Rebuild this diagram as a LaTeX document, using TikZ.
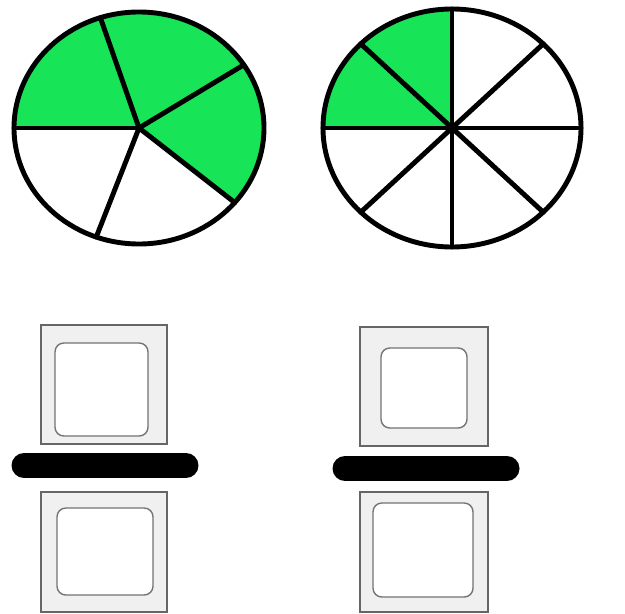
\documentclass[tikz,border=0pt]{standalone}
\usetikzlibrary{calc}
\definecolor{piegreen}{RGB}{24,228,88}
\begin{document}
\begin{tikzpicture}[
  x=0.02cm, y=0.02cm,
  pieline/.style={line width=2.8pt, draw=black, line cap=round},
  slice/.style={fill=piegreen},
  outerbox/.style={draw=black!60, fill=black!6, line width=1.3pt, inner sep=0pt},
  innerbox/.style={draw=black!55, fill=white, line width=0.8pt, rounded corners=5pt, inner sep=0pt},
  fracbar/.style={line width=0.5cm, line cap=round, draw=black}
]
  \useasboundingbox (0,0) rectangle (625,613);

  % --- Left pie: five parts, three shaded ---
  \coordinate (lc) at (139,485);
  \fill[slice] (lc) -- ++(-40:125 and 116)
       arc[start angle=-40, end angle=180, x radius=125, y radius=116] -- cycle;
  \foreach \a in {180,108,33,-40,-110}
    \draw[pieline] (lc) -- ++(\a:125 and 116);
  \draw[pieline] (lc) ellipse[x radius=125, y radius=116];

  % --- Right pie: eight parts, two shaded ---
  \coordinate (rc) at (452,485);
  \fill[slice] (rc) -- ++(90:129 and 119)
       arc[start angle=90, end angle=180, x radius=129, y radius=119] -- cycle;
  \foreach \a in {0,45,...,315}
    \draw[pieline] (rc) -- ++(\a:129 and 119);
  \draw[pieline] (rc) ellipse[x radius=129, y radius=119];

  % --- Left fraction: empty boxes over a bar ---
  \node[outerbox, minimum width=2.52cm, minimum height=2.38cm] (numL) at (104,228.5) {};
  \node[innerbox, minimum width=1.86cm, minimum height=1.86cm] (numLin) at (101.5,223.5) {};
  \coordinate (barLw) at (24,147.5);
  \coordinate (barLe) at (186,147.5);
  \draw[fracbar] (barLw) -- (barLe);
  \node[outerbox, minimum width=2.52cm, minimum height=2.40cm] (denL) at (104,61) {};
  \node[innerbox, minimum width=1.92cm, minimum height=1.74cm] (denLin) at (105,61.5) {};

  % --- Right fraction ---
  \node[outerbox, minimum width=2.56cm, minimum height=2.38cm] (numR) at (424,226.5) {};
  \node[innerbox, minimum width=1.72cm, minimum height=1.60cm] (numRin) at (424,225) {};
  \coordinate (barRw) at (345,144.5);
  \coordinate (barRe) at (507,144.5);
  \draw[fracbar] (barRw) -- (barRe);
  \node[outerbox, minimum width=2.56cm, minimum height=2.40cm] (denR) at (424,61) {};
  \node[innerbox, minimum width=2.00cm, minimum height=1.88cm] (denRin) at (423,63) {};
\end{tikzpicture}
\end{document}
